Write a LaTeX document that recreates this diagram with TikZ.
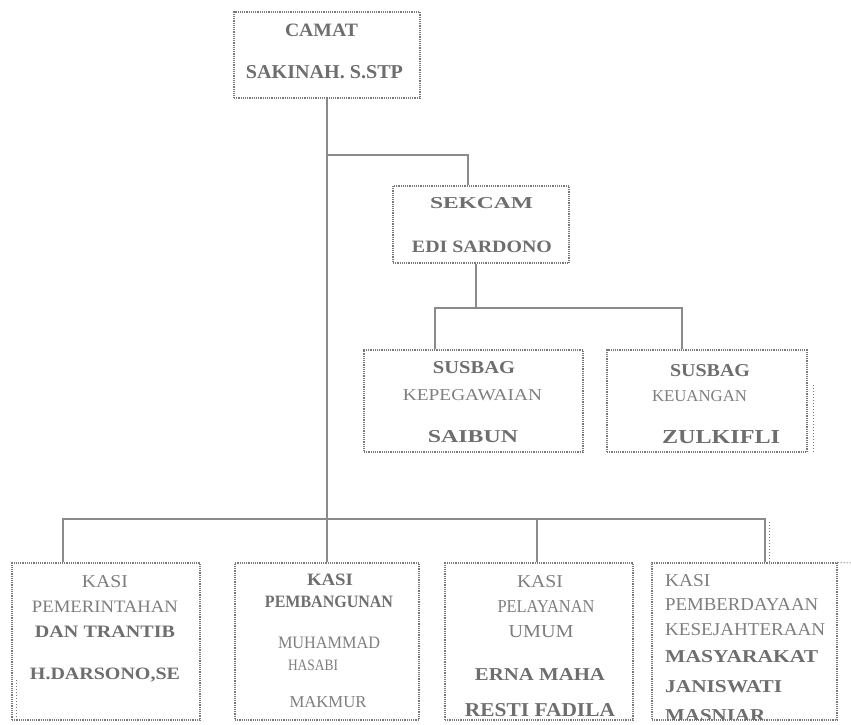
\documentclass[tikz,border=0pt]{standalone}
\usepackage{fontspec}
\setmainfont{Liberation Serif}
\usepackage{graphicx}
\definecolor{txt}{HTML}{6E6E6E}
\definecolor{txtl}{HTML}{7E7E7E}
\definecolor{ln}{HTML}{8A8A8A}
\definecolor{bd}{HTML}{7A7A7A}
\newcommand\tx[3]{\resizebox{#1pt}{#2pt}{#3}}
\begin{document}
\begin{tikzpicture}[x=1pt,y=-1pt,
  box/.style={draw=bd, densely dotted, line width=1.2pt, inner sep=0pt, rectangle},
  lbl/.style={text=txt, inner sep=0pt, font=\bfseries},
  lblr/.style={text=txtl, inner sep=0pt},
  conn/.style={draw=ln, line width=1.1pt},
  extra/.style={draw=bd, dotted, line width=1pt}]
\useasboundingbox[fill=white] (0,0) rectangle (851,724);

% boxes
\node[box, minimum width=186pt, minimum height=86pt] (camat) at (327,55) {};
\node[box, minimum width=176pt, minimum height=77pt] (sekcam) at (481,224.5) {};
\node[box, minimum width=219pt, minimum height=102pt] (sus1) at (473.5,401) {};
\node[box, minimum width=200pt, minimum height=102pt] (sus2) at (707,401) {};
\node[box, minimum width=188pt, minimum height=157pt] (b1) at (106,641.5) {};
\node[box, minimum width=184pt, minimum height=157pt] (b2) at (327,641.5) {};
\node[box, minimum width=188pt, minimum height=157pt] (b3) at (539,641.5) {};
\node[box, minimum width=185pt, minimum height=157pt] (b4) at (744.5,641.5) {};

% connector coordinates
\coordinate (sekin) at (468,155);
\coordinate (sekdrop) at (476,308);
\coordinate (h2l) at (435,308);
\coordinate (h2r) at (682,308);
\coordinate (h3l) at (63,519);
\coordinate (h3m) at (537,519);
\coordinate (h3r) at (765,519);

\draw[conn] (camat.south) -- (b2.north);
\draw[conn] (camat.south |- sekin) -- (sekin) -- (sekin |- sekcam.north);
\draw[conn] (sekdrop |- sekcam.south) -- (sekdrop);
\draw[conn] (h2l |- sus1.north) -- (h2l) -- (h2r) -- (h2r |- sus2.north);
\draw[conn] (h3l |- b1.north) -- (h3l) -- (h3r) -- (h3r |- b4.north);
\draw[conn] (h3m) -- (h3m |- b3.north);

% extra dotted traces
\coordinate (e1) at (813,385);
\coordinate (e2) at (769,522);
\coordinate (e3) at (851,563);
\coordinate (e4) at (16,680);
\draw[extra] (e1) -- (e1 |- sus2.south);
\draw[extra] (e2) -- (e2 |- b4.north);
\draw[extra] (b4.north east) -- (e3);
\draw[extra] (e4) -- (e4 |- b1.south);

% texts
\node[lbl] (t1) at (321.5,30) {\tx{73}{12.5}{CAMAT}};
\node[lbl] (t2) at (324.5,72) {\tx{157}{13}{SAKINAH. S.STP}};
\node[lbl] (t3) at (481.5,203) {\tx{103}{11}{SEKCAM}};
\node[lbl] (t4) at (482,247) {\tx{140}{11.5}{EDI SARDONO}};
\node[lbl] (t5) at (474,368) {\tx{82}{12}{SUSBAG}};
\node[lblr] (t6) at (472.5,395) {\tx{139}{11}{KEPEGAWAIAN}};
\node[lbl] (t7) at (473,437) {\tx{90}{12}{SAIBUN}};
\node[lbl] (t8) at (710,371) {\tx{80}{12}{SUSBAG}};
\node[lblr] (t9) at (699.5,396) {\tx{95}{11}{KEUANGAN}};
\node[lbl] (t10) at (721,437) {\tx{118}{13}{ZULKIFLI}};

\node[lblr] (t11) at (105,582) {\tx{46}{12}{KASI}};
\node[lblr] (t12) at (105,607) {\tx{146}{11.5}{PEMERINTAHAN}};
\node[lbl] (t13) at (105,632) {\tx{140}{11.5}{DAN TRANTIB}};
\node[lbl] (t14) at (105,675) {\tx{150}{11.5}{H.DARSONO,SE}};

\node[lbl] (t15) at (330,580) {\tx{46}{11.5}{KASI}};
\node[lbl] (t16) at (329,602) {\tx{128}{11.5}{PEMBANGUNAN}};
\node[lblr] (t17) at (329,643) {\tx{102}{11.5}{MUHAMMAD}};
\node[lblr] (t18) at (313,665) {\tx{50}{10.5}{HASABI}};
\node[lblr] (t19) at (328,702) {\tx{77}{11}{MAKMUR}};

\node[lblr] (t20) at (540,582) {\tx{46}{12}{KASI}};
\node[lblr] (t21) at (546,606) {\tx{97}{12}{PELAYANAN}};
\node[lblr] (t22) at (541,632) {\tx{65}{12}{UMUM}};
\node[lbl] (t23) at (540,674) {\tx{130}{12}{ERNA MAHA}};
\node[lbl] (t24) at (540,710) {\tx{150}{13}{RESTI FADILA}};

\node[lblr, anchor=west] (t25) at (665,581) {\tx{45}{12}{KASI}};
\node[lblr, anchor=west] (t26) at (665,605) {\tx{153}{12}{PEMBERDAYAAN}};
\node[lblr, anchor=west] (t27) at (665,630) {\tx{160}{12}{KESEJAHTERAAN}};
\node[lbl, anchor=west] (t28) at (665,657) {\tx{153}{12}{MASYARAKAT}};
\node[lbl, anchor=west] (t29) at (665,687) {\tx{117}{12}{JANISWATI}};
\begin{scope}
\clip (652,563) rectangle (837,719);
\node[lbl, anchor=west] (t30) at (665,716) {\tx{100}{12}{MASNIAR}};
\end{scope}
\end{tikzpicture}
\end{document}
